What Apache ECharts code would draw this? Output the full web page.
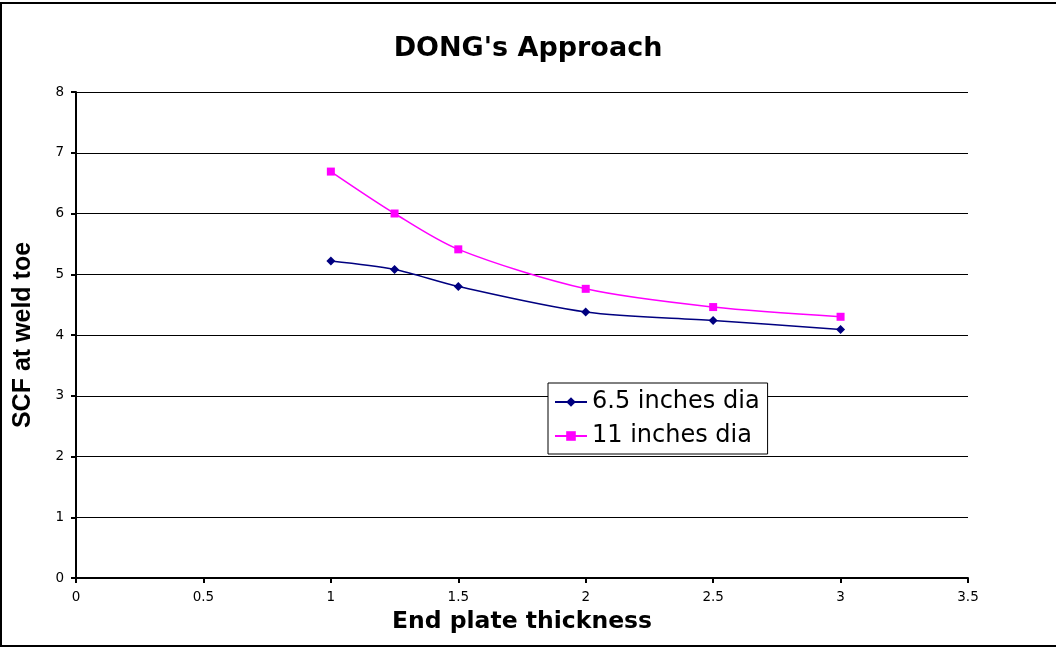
<!DOCTYPE html>
<html>
<head>
<meta charset="utf-8">
<title>DONG's Approach</title>
<script src="https://cdn.jsdelivr.net/npm/echarts@6/dist/echarts.min.js"></script>
<style>
  html, body { margin: 0; padding: 0; background: #fff; }
  #chart { width: 1056px; height: 648px; }
</style>
</head>
<body>
<div id="chart"></div>
<script>
// 数据
var thickness = [1, 1.25, 1.5, 2, 2.5, 3];
var dia65 = [5.22, 5.08, 4.80, 4.38, 4.24, 4.09];
var dia11 = [6.69, 6.00, 5.41, 4.76, 4.46, 4.30];
var seriesNames = ['6.5 inches dia', '11 inches dia'];

function pairs(xs, ys) {
  return xs.map(function (x, i) { return [x, ys[i]]; });
}

var chart = echarts.init(document.getElementById('chart'));
var wide = 'DejaVu Sans, Verdana, sans-serif';
var arial = 'Liberation Sans, Arial, sans-serif';

var option = {
  animation: false,
  backgroundColor: '#fff',
  textStyle: { fontFamily: wide },
  // 外框
  graphic: [{
    type: 'rect',
    shape: { x: 1, y: 3, width: 1070, height: 643 },
    style: { fill: 'none', stroke: '#000', lineWidth: 2 },
    silent: true
  }],
  title: {
    text: "DONG's Approach",
    left: 'center',
    top: 30,
    textStyle: { fontFamily: wide, fontSize: 27, fontWeight: 'bold', color: '#000' }
  },
  legend: {
    orient: 'vertical',
    left: 548,
    top: 383,
    padding: [7, 8, 6, 6],
    itemGap: 10,
    itemWidth: 32,
    itemHeight: 12,
    borderColor: '#000',
    borderWidth: 1,
    backgroundColor: '#fff',
    data: seriesNames,
    textStyle: { fontFamily: wide, fontSize: 24, color: '#000' }
  },
  grid: { left: 76, right: 88, top: 92, bottom: 70, containLabel: false },
  xAxis: {
    type: 'value',
    min: 0,
    max: 3.5,
    interval: 0.5,
    name: 'End plate thickness',
    nameLocation: 'middle',
    nameGap: 32,
    nameTextStyle: { fontFamily: wide, fontSize: 23.5, fontWeight: 'bold', color: '#000' },
    axisLine: { lineStyle: { color: '#000', width: 2 } },
    axisTick: { show: true, length: 5, lineStyle: { color: '#000', width: 2 } },
    axisLabel: { fontFamily: wide, fontSize: 13.5, color: '#000', margin: 12 },
    splitLine: { show: false }
  },
  yAxis: {
    type: 'value',
    min: 0,
    max: 8,
    interval: 1,
    name: 'SCF at weld toe',
    nameLocation: 'middle',
    nameGap: 40,
    nameTextStyle: { fontFamily: arial, fontSize: 25, fontWeight: 'bold', color: '#000' },
    axisLine: { show: true, lineStyle: { color: '#000', width: 2 } },
    axisTick: { show: true, length: 5, lineStyle: { color: '#000', width: 2 } },
    axisLabel: { fontFamily: wide, fontSize: 13.5, color: '#000', margin: 12 },
    splitLine: { show: true, lineStyle: { color: '#000', width: 1 } }
  },
  series: [{
    name: seriesNames[0],
    type: 'line',
    smooth: 0.3,
    data: pairs(thickness, dia65),
    symbol: 'diamond',
    symbolSize: 9,
    color: '#000080',
    lineStyle: { color: '#000080', width: 1.5 },
    itemStyle: { color: '#000080' }
  }, {
    name: seriesNames[1],
    type: 'line',
    smooth: 0.3,
    data: pairs(thickness, dia11),
    symbol: 'rect',
    symbolSize: 8,
    color: '#ff00ff',
    lineStyle: { color: '#ff00ff', width: 1.5 },
    itemStyle: { color: '#ff00ff' }
  }]
};

chart.setOption(option);
</script>
</body>
</html>
